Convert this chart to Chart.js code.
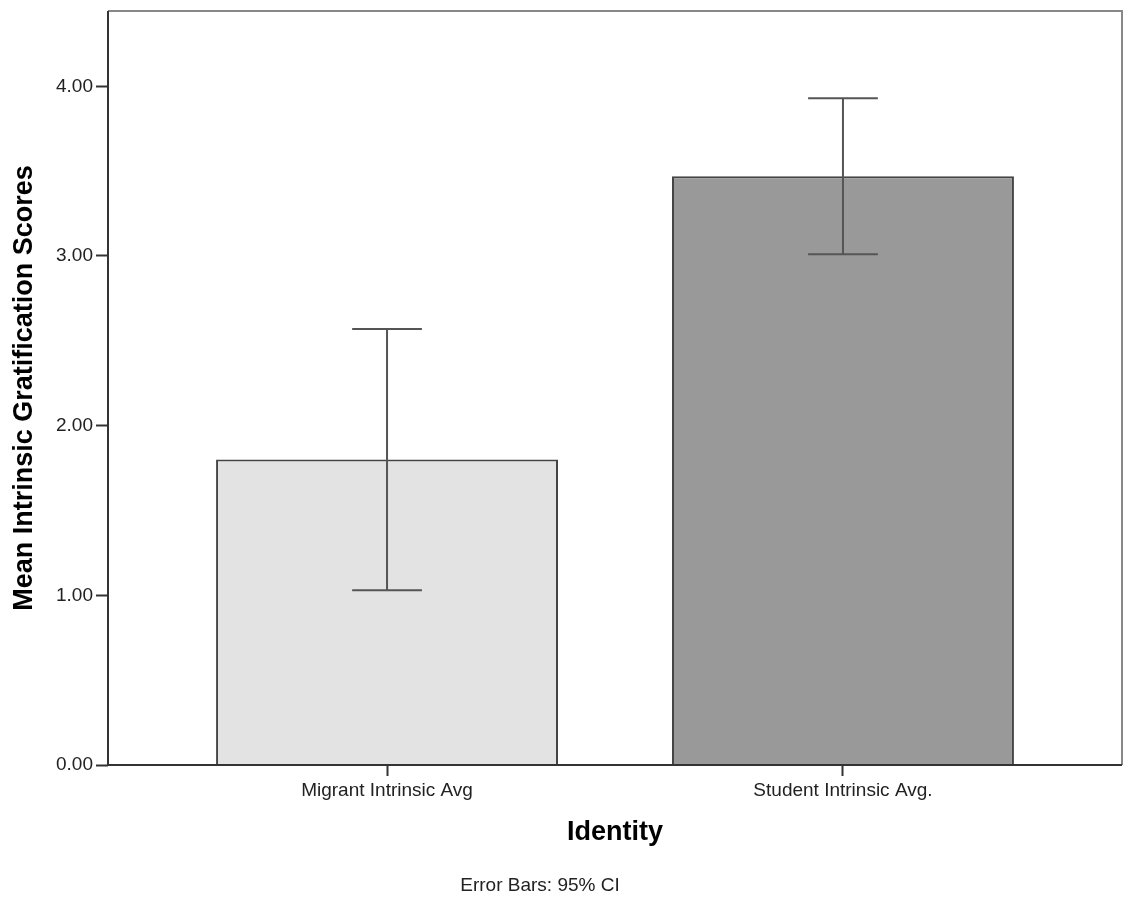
<!DOCTYPE html>
<html>
<head>
<meta charset="utf-8">
<script src="https://cdn.jsdelivr.net/npm/chart.js@4/dist/chart.umd.min.js"></script>
<style>
  html, body { margin: 0; padding: 0; background: #ffffff; }
  #wrap { width: 1125px; height: 903px; }
</style>
</head>
<body>
<div id="wrap"><canvas id="chart" width="1125" height="903"></canvas></div>
<script>
// Group means with their 95% confidence intervals
const categories = ['Migrant Intrinsic Avg', 'Student Intrinsic Avg.'];
const means = [1.80, 3.47];
const ciLower = [1.03, 3.01];
const ciUpper = [2.57, 3.93];
const barColors = ['#e3e3e3', '#999999'];
const yTicks = [0, 1, 2, 3, 4];
const xTitle = 'Identity';
const yTitle = 'Mean Intrinsic Gratification Scores';
const footnote = 'Error Bars: 95% CI';

const regularFont = { family: '"Liberation Sans", Arial, sans-serif', size: 19 };
const boldFont = { family: '"Liberation Sans", Arial, sans-serif', size: 27, weight: 'bold' };

// Frame around the plot, error bars and the footnote
const decorations = {
  id: 'decorations',
  afterDatasetsDraw(chart) {
    const { ctx, chartArea: a, scales: { x, y } } = chart;
    ctx.save();
    // error bars
    ctx.strokeStyle = '#555555';
    ctx.lineWidth = 2;
    const meta = chart.getDatasetMeta(0);
    means.forEach((m, i) => {
      const bar = meta.data[i];
      const cx = x.getPixelForValue(i);
      const half = bar.width * 0.102;
      const yHi = y.getPixelForValue(ciUpper[i]);
      const yLo = y.getPixelForValue(ciLower[i]);
      ctx.beginPath();
      ctx.moveTo(cx, yHi); ctx.lineTo(cx, yLo);
      ctx.moveTo(cx - half, yHi); ctx.lineTo(cx + half, yHi);
      ctx.moveTo(cx - half, yLo); ctx.lineTo(cx + half, yLo);
      ctx.stroke();
    });
    // plot frame: lighter top/right, darker left/bottom
    ctx.strokeStyle = '#888888';
    ctx.beginPath();
    ctx.moveTo(a.left, a.top); ctx.lineTo(a.right, a.top); ctx.lineTo(a.right, a.bottom);
    ctx.stroke();
    ctx.strokeStyle = '#333333';
    ctx.beginPath();
    ctx.moveTo(a.left, a.top); ctx.lineTo(a.left, a.bottom); ctx.lineTo(a.right, a.bottom);
    ctx.stroke();
    ctx.restore();
  },
  afterDraw(chart) {
    const { ctx } = chart;
    ctx.save();
    ctx.fillStyle = '#222222';
    ctx.font = '19px "Liberation Sans", Arial, sans-serif';
    ctx.textAlign = 'center';
    ctx.textBaseline = 'middle';
    ctx.fillText(footnote, 540, 886);
    ctx.restore();
  }
};

new Chart(document.getElementById('chart'), {
  type: 'bar',
  data: {
    datasets: [{
      data: means.map((v, i) => ({ x: i, y: v })),
      backgroundColor: barColors,
      borderColor: '#444444',
      borderWidth: 2,
      borderSkipped: 'bottom',
      categoryPercentage: 1,
      barPercentage: 0.75
    }]
  },
  options: {
    responsive: false,
    animation: false,
    events: [],
    layout: { padding: { top: 11, right: 3, left: 0, bottom: 0 } },
    plugins: { legend: { display: false }, tooltip: { enabled: false } },
    scales: {
      x: {
        type: 'linear',
        min: -0.612,
        max: 1.612,
        offset: false,
        afterBuildTicks(scale) { scale.ticks = categories.map((_, i) => ({ value: i })); },
        afterFit(scale) { scale.height = 138; scale.paddingLeft = 0; scale.paddingRight = 0; },
        border: { display: false },
        grid: { offset: false, drawOnChartArea: false, drawTicks: true, tickLength: 11, tickColor: '#333333', tickWidth: 2, color: '#333333' },
        ticks: {
          color: '#222222',
          font: regularFont,
          padding: 3,
          maxRotation: 0,
          autoSkip: false,
          callback: (v) => categories[v] ?? ''
        },
        title: {
          display: true,
          text: xTitle,
          color: '#000000',
          font: boldFont,
          padding: { top: 0, bottom: 54 }
        }
      },
      y: {
        min: 0,
        max: 4.444,
        afterBuildTicks(scale) { scale.ticks = yTicks.map(v => ({ value: v })); },
        afterFit(scale) { scale.width = 108; scale.paddingTop = 0; scale.paddingBottom = 0; },
        border: { display: false },
        grid: { offset: false, drawOnChartArea: false, drawTicks: true, tickLength: 12, tickColor: '#333333', tickWidth: 2, color: '#333333' },
        ticks: {
          color: '#222222',
          font: regularFont,
          padding: 3,
          callback: (v) => Number(v).toFixed(2)
        },
        title: {
          display: true,
          text: yTitle,
          color: '#000000',
          font: boldFont,
          padding: { top: 8, bottom: 0 }
        }
      }
    }
  },
  plugins: [decorations]
});
</script>
</body>
</html>
